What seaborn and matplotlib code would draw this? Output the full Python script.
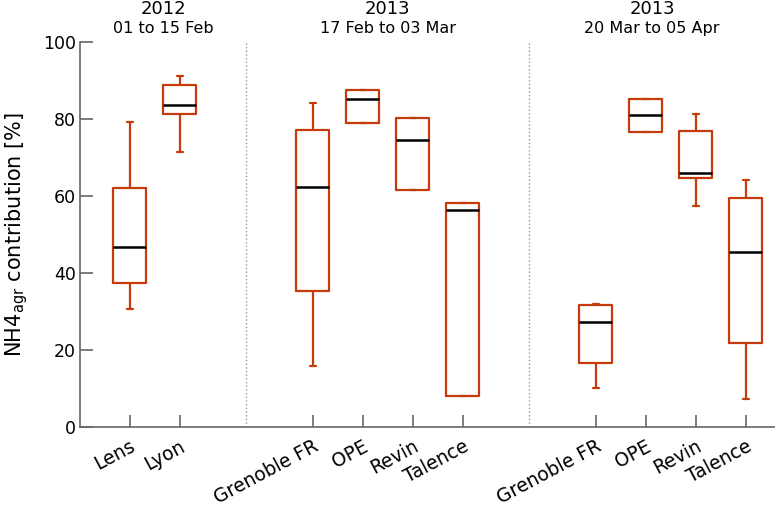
import numpy as np
import pandas as pd
import matplotlib
matplotlib.use('Agg')
import matplotlib.pyplot as plt
import seaborn as sns

# --- Data: box statistics per site (min, q1, median, q3, max) ---
periods = ['2012', '2013', '2013']
period_dates = ['01 to 15 Feb', '17 Feb to 03 Mar', '20 Mar to 05 Apr']
sites_p1 = ['Lens', 'Lyon']
sites_p2 = ['Grenoble FR', 'OPE', 'Revin', 'Talence']
sites_p3 = ['Grenoble FR', 'OPE', 'Revin', 'Talence']

stats_p1 = [
    [30.6, 37.2, 46.6, 61.9, 79.2],
    [71.4, 81.2, 83.6, 88.6, 91.1],
]
stats_p2 = [
    [15.8, 35.2, 62.2, 77.0, 84.1],
    [78.8, 78.8, 85.1, 87.4, 87.4],
    [61.5, 61.5, 74.5, 80.2, 80.2],
    [8.0, 8.0, 56.3, 58.2, 58.2],
]
stats_p3 = [
    [10.1, 16.6, 27.1, 31.5, 31.8],
    [76.6, 76.6, 80.9, 85.1, 85.1],
    [57.3, 64.7, 65.8, 76.8, 81.2],
    [7.2, 21.7, 45.5, 59.3, 64.0],
]

# --- Layout: positions along x (gap between period groups) ---
gap = 4 / 3
groups = [(sites_p1, stats_p1), (sites_p2, stats_p2), (sites_p3, stats_p3)]
rows = []
tick_pos, tick_lab, seps = [], [], []
x = 0.0
for gi, (sites, stats) in enumerate(groups):
    for name, st in zip(sites, stats):
        for v in st:
            rows.append({'pos': x, 'value': v})
        tick_pos.append(x)
        tick_lab.append(name)
        x += 1
    end = x - 1
    if gi < len(groups) - 1:
        seps.append(end + gap)
    x = end + 2 * gap
df = pd.DataFrame(rows)

xmin, xmax = -1.0, 12.92
bounds = [xmin] + seps + [xmax]

sns.set_style('white')
plt.rcParams['font.family'] = ['DejaVu Sans']
plt.rcParams['text.color'] = 'black'
plt.rcParams['axes.labelcolor'] = 'black'
plt.rcParams['xtick.color'] = 'black'
plt.rcParams['ytick.color'] = 'black'

fig = plt.figure(figsize=(7.75, 5.13), dpi=100)
ax = fig.add_axes([0.103, 0.168, 0.897, 0.751])

box_color = '#c63b0c'
sns.boxplot(data=df, x='pos', y='value', native_scale=True, fill=False,
            color=box_color, whis=(0, 100), width=0.66, linewidth=1.6,
            medianprops={'color': 'black', 'linewidth': 1.8},
            capwidths=0.12, ax=ax)

for s in seps:
    ax.axvline(s, color='#999999', linestyle=':', linewidth=1)

ax.set_xlim(xmin, xmax)
ax.set_ylim(0, 100)
ax.set_xticks(tick_pos)
ax.set_xticklabels(tick_lab, rotation=28, ha='right', rotation_mode='anchor', fontsize=13.5)
ax.set_yticks([0, 20, 40, 60, 80, 100])
ax.tick_params(axis='y', labelsize=12.5, pad=3)
ax.tick_params(bottom=True, left=True, direction='in', length=9,
               color='#666666', width=1.2)
ax.tick_params(axis='x', pad=7)
ax.set_xlabel('')
ax.set_ylabel('NH4$_{\\rm agr}$ contribution [%]', fontsize=15, labelpad=9)

sns.despine(ax=ax)
for sp in ['left', 'bottom']:
    ax.spines[sp].set_color('#666666')
    ax.spines[sp].set_linewidth(1.2)

for i in range(3):
    cx = (bounds[i] + bounds[i + 1]) / 2
    ax.text(cx, 1.06, periods[i], transform=ax.get_xaxis_transform(),
            ha='center', va='bottom', fontsize=13)
    ax.text(cx, 1.015, period_dates[i], transform=ax.get_xaxis_transform(),
            ha='center', va='bottom', fontsize=11.5)

fig.savefig('out.png', dpi=100)
